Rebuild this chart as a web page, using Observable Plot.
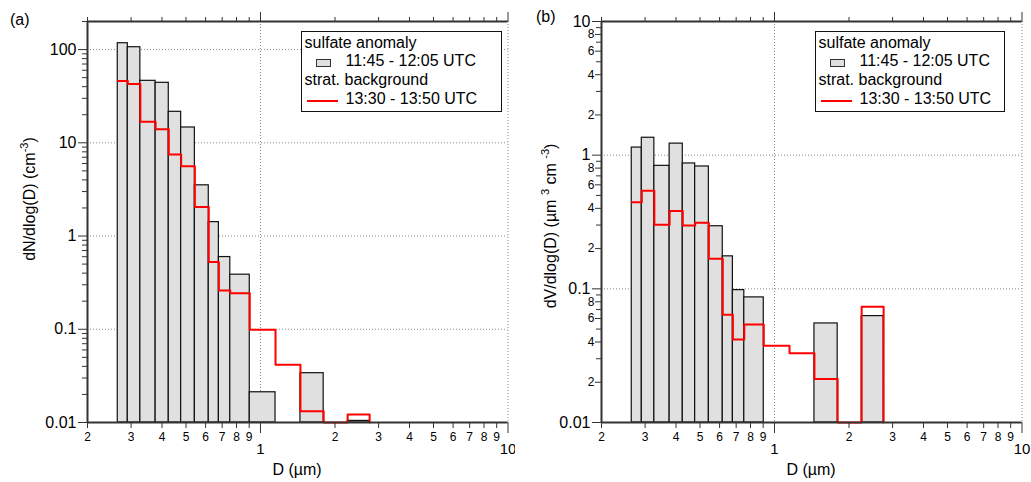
<!DOCTYPE html>
<html>
<head>
<meta charset="utf-8">
<script src="https://cdn.jsdelivr.net/npm/d3@7"></script>
<script src="https://cdn.jsdelivr.net/npm/@observablehq/plot@0.6"></script>
<style>
  body { margin: 0; background: #fff; font-family: "Liberation Sans", Arial, sans-serif; }
  #chart { position: relative; width: 1031px; height: 482px; overflow: hidden; }
  .panel { position: absolute; top: 0; }
  .legend { position: absolute; box-sizing: border-box; border: 1px solid #111; background: #fff;
            font-size: 16px; color: #000; }
  .legend .row { position: absolute; height: 18.7px; line-height: 18.7px; white-space: nowrap; }
  .legend .swatch { position: absolute; width: 15px; height: 8px; box-sizing: border-box;
                    background: #e0e0e0; border: 1px solid #333; }
  .legend .redline { position: absolute; height: 2px; background: #ff0000; }
</style>
</head>
<body>
<div id="chart"></div>
<script>
// Size bins (µm): lower edge of each bin, plus the upper edge of the last one
const binEdges = [0.265, 0.291, 0.327, 0.377, 0.426, 0.478, 0.543, 0.618, 0.679, 0.755, 0.905, 1.15, 1.45, 1.80, 2.25, 2.76];

// Number size distribution dN/dlog(D) (cm^-3); 0 = no particles counted
const numberAnomaly    = [117, 106, 46.2, 44.0, 21.5, 14.6, 3.50, 1.41, 0.595, 0.385, 0.0211, 0, 0.0338, 0, 0.0104];
const numberBackground = [46.0, 42.6, 16.8, 14.0, 7.49, 5.61, 2.05, 0.526, 0.261, 0.244, 0.099, 0.0416, 0.0132, 0, 0.0122];

// Volume size distribution dV/dlog(D) (µm^3 cm^-3)
const volumeAnomaly    = [1.14, 1.35, 0.832, 1.22, 0.867, 0.823, 0.294, 0.175, 0.0978, 0.0863, 0, 0, 0.0551, 0, 0.0625];
const volumeBackground = [0.445, 0.541, 0.301, 0.383, 0.298, 0.312, 0.168, 0.0639, 0.0418, 0.0542, 0.0375, 0.0330, 0.0212, 0, 0.0733];

// Diameter axis ticks and labels
const xMinorTicks  = [0.2, 0.3, 0.4, 0.5, 0.6, 0.7, 0.8, 0.9, 2, 3, 4, 5, 6, 7, 8, 9];
const xMinorLabels = ["2", "3", "4", "5", "6", "7", "8", "9", "2", "3", "4", "5", "6", "7", "8", "9"];
const xMajorTicks  = [1, 10];
const xMajorLabels = ["1", "10"];
const xDomain = [0.2, 10];

// Concentration axes
const yMajorA = [0.01, 0.1, 1, 10, 100];
const yMajorLabelsA = ["0.01", "0.1", "1", "10", "100"];
const yDomainA = [0.01, 200];
const yMajorB = [0.01, 0.1, 1, 10];
const yMajorLabelsB = ["0.01", "0.1", "1", "10"];
const yDomainB = [0.01, 10];
const mantissas = [2, 3, 4, 5, 6, 7, 8, 9];
const labelledMantissasB = [2, 4, 6, 8];

const legendLines = ["sulfate anomaly", "11:45 - 12:05 UTC", "strat. background", "13:30 - 13:50 UTC"];

const AXIS = "#333";
const FONT = "'Liberation Sans', Arial, sans-serif";
const noLabel = () => "";

// minor ticks (2..9 × each decade) inside a domain
function minorTicks(domain) {
  const out = [];
  for (let e = Math.floor(Math.log10(domain[0])); e < Math.ceil(Math.log10(domain[1])); e++) {
    for (const m of mantissas) {
      const v = +(m * Math.pow(10, e)).toPrecision(6);
      if (v >= domain[0] && v <= domain[1]) out.push(v);
    }
  }
  return out;
}
const mantissaOf = v => Math.round(v / Math.pow(10, Math.floor(Math.log10(v) + 1e-9)));
const labelFrom = (ticks, labels) => v => labels[ticks.indexOf(v)];

function panel({anomaly, background, yDomain, yMajor, yMajorLabels, labelMinor, width, marginLeft, marginRight}) {
  const floor = yDomain[0];
  const nb = binEdges.length - 1;
  const bars = [];
  for (let i = 0; i < nb; i++) {
    if (anomaly[i] > 0) bars.push({lo: binEdges[i], hi: binEdges[i + 1], v: anomaly[i]});
  }
  // step trace of the background distribution; empty bins fall to the axis floor
  const steps = [];
  for (let i = 0; i < nb; i++) steps.push({d: binEdges[i], v: Math.max(background[i], floor)});
  steps.push({d: binEdges[nb], v: Math.max(background[nb - 1], floor)});
  steps.push({d: binEdges[nb], v: floor});

  const yMinor = minorTicks(yDomain);
  const yMinorLabelled = labelMinor ? yMinor.filter(v => labelledMantissasB.includes(mantissaOf(v))) : [];
  const yMinorPlain = yMinor.filter(v => !yMinorLabelled.includes(v));

  const grid = {stroke: "#8a8a8a", strokeOpacity: 1, strokeWidth: 1, strokeDasharray: "1,2"};
  const marks = [
    Plot.gridX([1, 10], grid),
    Plot.gridY(yMajor.filter(v => v > yDomain[0] && v < yDomain[1]), grid),
    Plot.rect(bars, {x1: "lo", x2: "hi", y1: floor, y2: "v", fill: "#e0e0e0", stroke: "#111", strokeWidth: 1.2}),
    Plot.line(steps, {x: "d", y: "v", curve: "step-after", stroke: "#ff0000", strokeWidth: 2}),
    Plot.ruleY([yDomain[0]], {stroke: AXIS, strokeWidth: 2}),
    Plot.ruleY([yDomain[1]], {stroke: AXIS, strokeWidth: 2}),
    Plot.ruleX([xDomain[0]], {stroke: AXIS, strokeWidth: 2}),
    // bottom axis: digit labels under the minor ticks, decade labels set lower
    Plot.axisX(xMinorTicks, {anchor: "bottom", tickSize: 6, tickPadding: 4, fontSize: 12, stroke: AXIS,
                             text: labelFrom(xMinorTicks, xMinorLabels), label: null}),
    Plot.axisX(xMajorTicks, {anchor: "bottom", tickSize: 11, tickPadding: 10, fontSize: 15, stroke: AXIS,
                             text: labelFrom(xMajorTicks, xMajorLabels), label: null}),
    // mirrored top axis, ticks only
    Plot.axisX(xMinorTicks, {anchor: "top", tickSize: 5, stroke: AXIS, text: noLabel, label: null}),
    Plot.axisX(xMajorTicks, {anchor: "top", tickSize: 10, stroke: AXIS, text: noLabel, label: null}),
    // left axis
    Plot.axisY(yMajor, {anchor: "left", tickSize: 9, tickPadding: 2, fontSize: 16, stroke: AXIS,
                        text: labelFrom(yMajor, yMajorLabels), label: null}),
    Plot.axisY(yMinorPlain, {anchor: "left", tickSize: 5, stroke: AXIS, text: noLabel, label: null})
  ];
  if (yMinorLabelled.length) {
    marks.push(Plot.axisY(yMinorLabelled, {anchor: "left", tickSize: 6, tickPadding: 1, fontSize: 12, stroke: AXIS,
                                           text: v => String(mantissaOf(v)), label: null}));
  }
  return Plot.plot({
    width, height: 482,
    marginLeft, marginRight, marginTop: 21, marginBottom: 60,
    style: {fontFamily: FONT, fontSize: "16px", color: "#000", background: "#fff", overflow: "visible"},
    x: {type: "log", domain: xDomain, label: null},
    y: {type: "log", domain: yDomain, label: null},
    marks
  });
}

function addText(svg, {x, y, rotate = false, anchor = "middle", size = 16, parts}) {
  const t = d3.select(svg).append("text")
    .attr("transform", `translate(${x},${y})` + (rotate ? " rotate(-90)" : ""))
    .attr("text-anchor", anchor).attr("font-size", size).attr("font-family", FONT).attr("fill", "#000");
  for (const p of parts) {
    const s = t.append("tspan").text(p.text);
    if (p.sup) s.attr("font-size", 11).attr("dy", -7);
    if (p.after) s.attr("dy", 7);
  }
}

function addLegend(container, left, width) {
  const box = document.createElement("div");
  box.className = "legend";
  Object.assign(box.style, {left: left + "px", top: "31px", width: width + "px", height: "81px"});
  const rowTops = [1.5, 20.2, 38.9, 57.6];
  legendLines.forEach((txt, i) => {
    const row = document.createElement("div");
    row.className = "row";
    row.textContent = txt;
    row.style.top = rowTops[i] + "px";
    row.style.left = (i % 2 === 0 ? 2.5 : 43.5) + "px";
    box.appendChild(row);
  });
  const sw = document.createElement("div");
  sw.className = "swatch";
  Object.assign(sw.style, {left: "13.5px", top: "27px"});
  box.appendChild(sw);
  const rl = document.createElement("div");
  rl.className = "redline";
  Object.assign(rl.style, {left: "4.5px", top: "68px", width: "31px"});
  box.appendChild(rl);
  container.appendChild(box);
}

const chart = document.getElementById("chart");

// (a) number distribution
const svgA = panel({anomaly: numberAnomaly, background: numberBackground, yDomain: yDomainA,
                    yMajor: yMajorA, yMajorLabels: yMajorLabelsA, labelMinor: false,
                    width: 515, marginLeft: 87, marginRight: 7.5});
svgA.classList.add("panel");
svgA.style.left = "0px";
chart.appendChild(svgA);
addText(svgA, {x: 10, y: 25, anchor: "start", parts: [{text: "(a)"}]});
addText(svgA, {x: 35, y: 199, rotate: true, parts: [{text: "dN/dlog(D) (cm"}, {text: "-3", sup: true}, {text: ")", after: true}]});
addText(svgA, {x: 297, y: 475, parts: [{text: "D (µm)"}]});
addLegend(chart, 301, 201);

// (b) volume distribution
const svgB = panel({anomaly: volumeAnomaly, background: volumeBackground, yDomain: yDomainB,
                    yMajor: yMajorB, yMajorLabels: yMajorLabelsB, labelMinor: true,
                    width: 516, marginLeft: 86, marginRight: 9.5});
svgB.classList.add("panel");
svgB.style.left = "515px";
chart.appendChild(svgB);
addText(svgB, {x: 21, y: 22, anchor: "start", parts: [{text: "(b)"}]});
addText(svgB, {x: 40.5, y: 226, rotate: true, parts: [{text: "dV/dlog(D) (µm "}, {text: "3", sup: true}, {text: " cm ", after: true}, {text: "-3", sup: true}, {text: ")", after: true}]});
addText(svgB, {x: 296, y: 475, parts: [{text: "D (µm)"}]});
addLegend(chart, 815, 190);
</script>
</body>
</html>
